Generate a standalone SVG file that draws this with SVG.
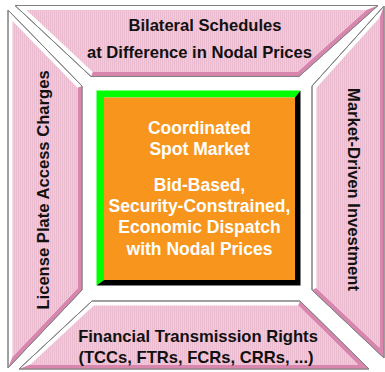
<svg xmlns="http://www.w3.org/2000/svg" width="385" height="372" viewBox="0 0 385 372">
<defs>
<pattern id="hatch" width="2" height="4" patternUnits="userSpaceOnUse">
<rect width="2" height="4" fill="#f3c9db"/>
<rect width="1" height="4" fill="#ebbbcf"/>
</pattern>
<style>
.rim{fill:#ffffff;stroke:#808080;stroke-width:1}
.shade{fill:#d886ae}
.face{fill:url(#hatch)}
.pt{font-family:"Liberation Sans",Arial,Helvetica,sans-serif;font-weight:bold;font-size:16.6px;fill:#111111;text-anchor:middle}
.ct{font-family:"Liberation Sans",Arial,Helvetica,sans-serif;font-weight:bold;font-size:17.5px;fill:#ffffff;text-anchor:middle}
</style>
</defs>
<rect width="385" height="372" fill="#ffffff"/>

<g id="panel-top">
<polygon class="rim" points="15,5.5 378,5.5 299,76.5 91,76.5"/>
<polygon class="shade" points="378,5.5 299,76.5 91,76.5 92.8,72 297.3,72 366.3,10"/>
<polygon class="face" points="26.4,10 366.3,10 297.3,72 92.8,72"/>
<polygon fill="none" stroke="#808080" stroke-width="1" points="15,5.5 378,5.5 299,76.5 91,76.5"/>
<text class="pt" x="205" y="31">Bilateral Schedules</text>
<text class="pt" x="199.5" y="58">at Difference in Nodal Prices</text>
</g>

<g id="panel-left">
<polygon class="rim" points="8,10 82,86 82,290 8,368"/>
<polygon class="shade" points="82,86 82,290 8,368 12.5,356.7 77.5,288.2 77.5,87.8"/>
<polygon class="face" points="12.5,21.1 77.5,87.8 77.5,288.2 12.5,356.7"/>
<polygon fill="none" stroke="#808080" stroke-width="1" points="8,10 82,86 82,290 8,368"/>
<text class="pt" transform="translate(49,190) rotate(-90)">License Plate Access Charges</text>
</g>

<g id="panel-right">
<polygon class="rim" points="312,86 384,6 384,358 312,290"/>
<polygon class="shade" points="384,6 384,358 312,290 316.5,288.1 379.5,347.6 379.5,17.7"/>
<polygon class="face" points="316.5,87.7 379.5,17.7 379.5,347.6 316.5,288.1"/>
<polygon fill="none" stroke="#808080" stroke-width="1" points="312,86 384,6 384,358 312,290"/>
<text class="pt" transform="translate(347.5,189.5) rotate(90)">Market-Driven Investment</text>
</g>

<g id="panel-bottom">
<polygon class="rim" points="92,301 300,301 369,369 19,369"/>
<polygon class="shade" points="300,301 369,369 19,369 30.4,364.5 358,364.5 298.2,305.5"/>
<polygon class="face" points="93.8,305.5 298.2,305.5 358,364.5 30.4,364.5"/>
<polygon fill="none" stroke="#808080" stroke-width="1" points="92,301 300,301 369,369 19,369"/>
<text class="pt" x="198" y="342">Financial Transmission Rights</text>
<text class="pt" x="196" y="363">(TCCs, FTRs, FCRs, CRRs, ...)</text>
</g>

<g id="center-market">
<polygon fill="#00ff00" points="96.5,90.5 300.5,90.5 295,97.5 104,97.5 104,280 96.5,285.5"/>
<polygon fill="#000000" points="300.5,90.5 300.5,285.5 96.5,285.5 104,280 295,280 295,97.5"/>
<rect x="104" y="97.5" width="191" height="182.5" fill="#f8951d"/>
<text class="ct" x="199.5" y="134">Coordinated</text>
<text class="ct" x="199.5" y="155">Spot Market</text>
<text class="ct" x="199.5" y="190.5">Bid-Based,</text>
<text class="ct" x="199.5" y="212">Security-Constrained,</text>
<text class="ct" x="199.5" y="233">Economic Dispatch</text>
<text class="ct" x="199.5" y="254.5">with Nodal Prices</text>
</g>
</svg>
